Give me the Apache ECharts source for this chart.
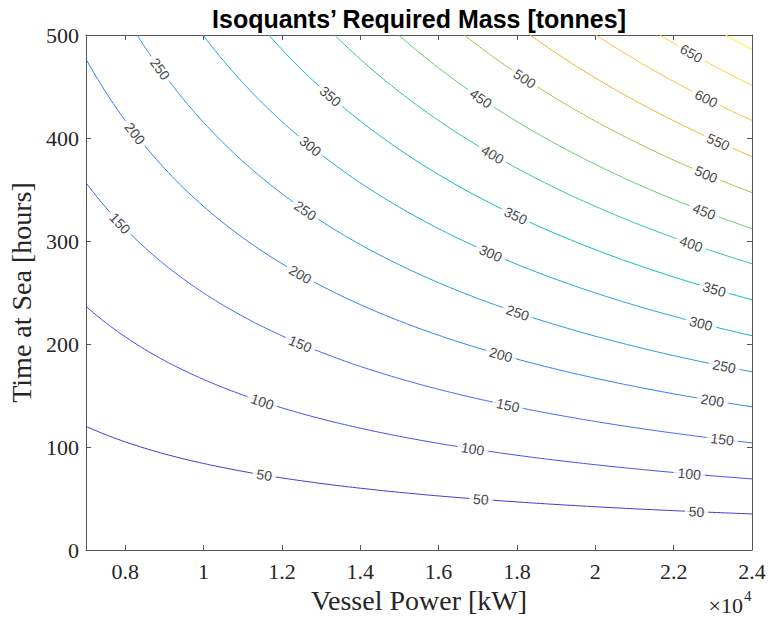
<!DOCTYPE html>
<html>
<head>
<meta charset="utf-8">
<script src="https://cdn.jsdelivr.net/npm/echarts@6/dist/echarts.min.js"></script>
<style>
html,body{margin:0;padding:0;background:#fff;}
#chart{width:770px;height:620px;}
</style>
</head>
<body>
<div id="chart"></div>
<script>
// Contour levels (tonnes)
const levels = [50, 100, 150, 200, 250, 300, 350, 400, 450, 500, 550, 600, 650, 700];
// Time at sea (hours) where each isoquant meets the right edge (24000 kW)
const hoursAtMaxPower = [35, 69, 104, 139, 173, 208, 243, 278, 312, 347, 382, 417, 451, 486];
// Power positions (kW) of the inline contour labels
const labelPowers = [
  [11550, 17080, 22580],
  [11500, 16870, 22400],
  [7870, 12470, 17770, 23240],
  [8250, 12470, 17590, 22990],
  [8890, 12600, 18020, 23290],
  [12730, 17330, 22700],
  [13240, 17970, 23040],
  [17380, 22450],
  [17080, 22780],
  [18200, 22830],
  [23140],
  [22830],
  [22450],
  []
];
// Line colours (parula)
const levelColors = ['#4537d5', '#484cf0', '#4269fe', '#2f81fa', '#259be7', '#18addb', '#0bbdbc',
  '#31c69f', '#64cd6f', '#9dc943', '#e8b92e', '#febd3c', '#fcd030', '#f7f51b'];
// Axis ticks
const xTicks = [8000, 10000, 12000, 14000, 16000, 18000, 20000, 22000, 24000];
const yTicks = [0, 100, 200, 300, 400, 500];
const xMin = 7000, xMax = 24000, yMin = 0, yMax = 500;
const refPower = 24000;

const chart = echarts.init(document.getElementById('chart'), null, {renderer: 'svg'});
const serif = "'Liberation Serif', 'Times New Roman', serif";
const sans = "'Liberation Sans', Arial, Helvetica, sans-serif";
const axisColor = '#555';
const textColor = '#262626';

function hoursOn(i, P) { return hoursAtMaxPower[i] * refPower / P; }

const axisBase = {
  type: 'value',
  splitLine: {show: false},
  axisLine: {show: true, onZero: false, lineStyle: {color: axisColor, width: 1}},
};

const option = {
  animation: false,
  backgroundColor: '#fff',
  grid: {left: 86, right: 18, top: 35, bottom: 70, containLabel: false, outerBoundsMode: 'none'},
  xAxis: [
    Object.assign({}, axisBase, {
      min: xMin, max: xMax, position: 'bottom',
      name: 'Vessel Power [kW]', nameLocation: 'middle', nameGap: 36,
      nameTextStyle: {fontFamily: serif, fontSize: 28, color: textColor},
      axisTick: {show: true, inside: true, length: 5, customValues: xTicks, lineStyle: {color: axisColor}},
      axisLabel: {show: true, customValues: xTicks, margin: 10, fontFamily: serif, fontSize: 22, color: textColor,
        formatter: v => String(parseFloat((v / 10000).toFixed(1)))}
    }),
    Object.assign({}, axisBase, {
      min: xMin, max: xMax, position: 'top',
      axisTick: {show: true, inside: true, length: 5, customValues: xTicks, lineStyle: {color: axisColor}},
      axisLabel: {show: false}
    })
  ],
  yAxis: [
    Object.assign({}, axisBase, {
      min: yMin, max: yMax, interval: 100, position: 'left',
      name: 'Time at Sea [hours]', nameLocation: 'middle', nameGap: 50,
      nameTextStyle: {fontFamily: serif, fontSize: 28, color: textColor},
      axisTick: {show: true, inside: true, length: 5, lineStyle: {color: axisColor}},
      axisLabel: {show: true, margin: 7, fontFamily: serif, fontSize: 22, color: textColor}
    }),
    Object.assign({}, axisBase, {
      min: yMin, max: yMax, interval: 100, position: 'right',
      axisTick: {show: true, inside: true, length: 5, lineStyle: {color: axisColor}},
      axisLabel: {show: false}
    })
  ],
  graphic: [
    {type: 'text', x: 419, y: 19, style: {text: 'Isoquants\u2019 Required Mass [tonnes]', font: 'bold 25px ' + sans,
      fill: '#000', textAlign: 'center', textVerticalAlign: 'middle'}},
    {type: 'text', x: 743, y: 605, style: {text: '\u00d710', font: '22px ' + serif,
      fill: textColor, textAlign: 'right', textVerticalAlign: 'middle'}},
    {type: 'text', x: 744, y: 596, style: {text: '4', font: '15px ' + serif,
      fill: textColor, textAlign: 'left', textVerticalAlign: 'middle'}}
  ],
  series: []
};
chart.setOption(option);

const series = [];
levels.forEach((lev, i) => {
  const k = hoursAtMaxPower[i] * refPower;
  const start = Math.max(xMin, k / yMax);
  const data = [[start, hoursOn(i, start)]];
  for (let P = Math.ceil(start / 100) * 100; P <= xMax; P += 100) {
    if (P > start) data.push([P, hoursOn(i, P)]);
  }
  series.push({
    type: 'line', name: String(lev), xAxisIndex: 0, yAxisIndex: 0,
    data: data, showSymbol: false, symbol: 'none', smooth: false, silent: true, z: 2,
    lineStyle: {color: levelColors[i], width: 1}
  });
});

levels.forEach((lev, i) => {
  const items = labelPowers[i].map(P => {
    const a = chart.convertToPixel({xAxisIndex: 0, yAxisIndex: 0}, [P - 100, hoursOn(i, P - 100)]);
    const b = chart.convertToPixel({xAxisIndex: 0, yAxisIndex: 0}, [P + 100, hoursOn(i, P + 100)]);
    const rot = -Math.atan2(b[1] - a[1], b[0] - a[0]) * 180 / Math.PI;
    return {value: [P, hoursOn(i, P)], label: {rotate: rot}};
  });
  if (!items.length) return;
  series.push({
    type: 'scatter', xAxisIndex: 0, yAxisIndex: 0, symbolSize: 0, silent: true, z: 5,
    data: items,
    label: {show: true, position: 'inside', formatter: String(lev), fontFamily: sans, fontSize: 14,
      color: '#111', backgroundColor: '#fff', padding: [0, 4]}
  });
});

chart.setOption({series: series});
</script>
</body>
</html>
